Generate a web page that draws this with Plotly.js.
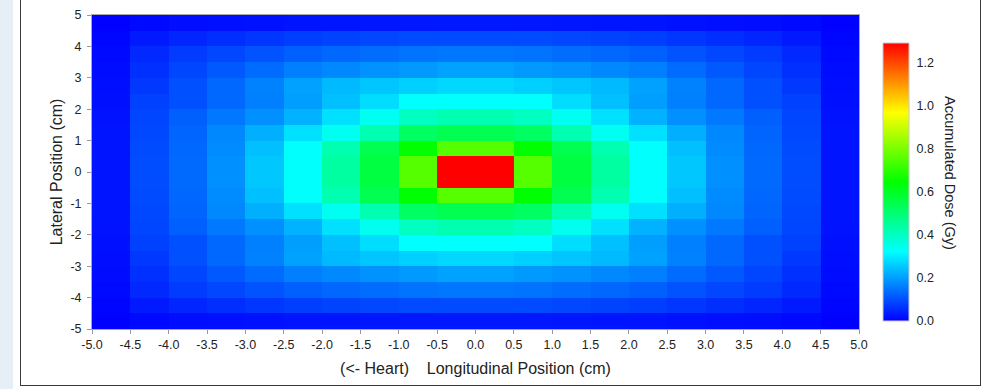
<!DOCTYPE html>
<html>
<head>
<meta charset="utf-8">
<script src="https://cdn.plot.ly/plotly-3.0.1.min.js"></script>
<style>
  html, body { margin: 0; padding: 0; background: #ffffff; }
  #wrap { position: relative; width: 986px; height: 389px; overflow: hidden; background: #ffffff; }
  #strip { position: absolute; left: 0; top: 0; width: 13px; height: 389px; background: #e7eff6; }
  #frame { position: absolute; left: 20px; top: -5px; width: 961px; height: 391px; border: 1.5px solid #3a3a3a; box-sizing: border-box; pointer-events: none; }
  #chart { position: absolute; left: 0; top: 0; width: 986px; height: 389px; }
</style>
</head>
<body>
<div id="wrap">
  <div id="strip"></div>
  <div id="chart"></div>
  <div id="frame"></div>
</div>
<script>
// Cell centres (cm)
var xCenters = [-4.75,-4.25,-3.75,-3.25,-2.75,-2.25,-1.75,-1.25,-0.75,-0.25,0.25,0.75,1.25,1.75,2.25,2.75,3.25,3.75,4.25,4.75];
var yCenters = [-4.75,-4.25,-3.75,-3.25,-2.75,-2.25,-1.75,-1.25,-0.75,-0.25,0.25,0.75,1.25,1.75,2.25,2.75,3.25,3.75,4.25,4.75];

// Accumulated dose (Gy), one row per lateral position, bottom (-4.75) to top (4.75)
var doseRows = [
  [0.001,0.011,0.016,0.019,0.022,0.025,0.027,0.028,0.029,0.030,0.030,0.029,0.028,0.027,0.025,0.022,0.019,0.016,0.011,0.001],
  [0.006,0.032,0.047,0.058,0.068,0.078,0.085,0.090,0.093,0.094,0.094,0.093,0.090,0.085,0.078,0.068,0.058,0.047,0.032,0.006],
  [0.012,0.051,0.075,0.090,0.105,0.122,0.130,0.138,0.145,0.150,0.150,0.145,0.138,0.130,0.122,0.105,0.090,0.075,0.051,0.012],
  [0.015,0.061,0.087,0.111,0.135,0.160,0.172,0.185,0.195,0.205,0.205,0.195,0.185,0.172,0.160,0.135,0.111,0.087,0.061,0.015],
  [0.018,0.071,0.101,0.132,0.165,0.205,0.235,0.250,0.263,0.273,0.273,0.263,0.250,0.235,0.205,0.165,0.132,0.101,0.071,0.018],
  [0.020,0.081,0.101,0.132,0.162,0.200,0.243,0.280,0.322,0.325,0.325,0.322,0.280,0.243,0.200,0.162,0.132,0.101,0.081,0.020],
  [0.023,0.087,0.121,0.152,0.182,0.225,0.283,0.340,0.402,0.422,0.422,0.402,0.340,0.283,0.225,0.182,0.152,0.121,0.087,0.023],
  [0.025,0.091,0.128,0.172,0.222,0.285,0.340,0.422,0.524,0.544,0.544,0.524,0.422,0.340,0.285,0.222,0.172,0.128,0.091,0.025],
  [0.025,0.094,0.132,0.177,0.243,0.325,0.422,0.544,0.645,0.752,0.752,0.645,0.544,0.422,0.325,0.243,0.177,0.132,0.094,0.025],
  [0.025,0.096,0.134,0.182,0.253,0.325,0.443,0.564,0.752,1.290,1.290,0.752,0.564,0.443,0.325,0.253,0.182,0.134,0.096,0.025],
  [0.025,0.096,0.134,0.182,0.253,0.325,0.443,0.564,0.752,1.290,1.290,0.752,0.564,0.443,0.325,0.253,0.182,0.134,0.096,0.025],
  [0.025,0.094,0.132,0.177,0.243,0.325,0.422,0.544,0.645,0.752,0.752,0.645,0.544,0.422,0.325,0.243,0.177,0.132,0.094,0.025],
  [0.025,0.091,0.128,0.172,0.222,0.285,0.340,0.422,0.524,0.544,0.544,0.524,0.422,0.340,0.285,0.222,0.172,0.128,0.091,0.025],
  [0.023,0.087,0.121,0.152,0.182,0.225,0.283,0.340,0.402,0.422,0.422,0.402,0.340,0.283,0.225,0.182,0.152,0.121,0.087,0.023],
  [0.020,0.081,0.101,0.132,0.162,0.200,0.243,0.280,0.322,0.325,0.325,0.322,0.280,0.243,0.200,0.162,0.132,0.101,0.081,0.020],
  [0.018,0.071,0.101,0.132,0.165,0.205,0.235,0.250,0.263,0.273,0.273,0.263,0.250,0.235,0.205,0.165,0.132,0.101,0.071,0.018],
  [0.015,0.061,0.087,0.111,0.135,0.160,0.172,0.185,0.195,0.205,0.205,0.195,0.185,0.172,0.160,0.135,0.111,0.087,0.061,0.015],
  [0.012,0.051,0.075,0.090,0.105,0.122,0.130,0.138,0.145,0.150,0.150,0.145,0.138,0.130,0.122,0.105,0.090,0.075,0.051,0.012],
  [0.006,0.032,0.047,0.058,0.068,0.078,0.085,0.090,0.093,0.094,0.094,0.093,0.090,0.085,0.078,0.068,0.058,0.047,0.032,0.006],
  [0.001,0.011,0.016,0.019,0.022,0.025,0.027,0.028,0.029,0.030,0.030,0.029,0.028,0.027,0.025,0.022,0.019,0.016,0.011,0.001]
];

// Tick labels
var xTickVals = [-5,-4.5,-4,-3.5,-3,-2.5,-2,-1.5,-1,-0.5,0,0.5,1,1.5,2,2.5,3,3.5,4,4.5,5];
var xTickText = ["-5.0","-4.5","-4.0","-3.5","-3.0","-2.5","-2.0","-1.5","-1.0","-0.5","0.0","0.5","1.0","1.5","2.0","2.5","3.0","3.5","4.0","4.5","5.0"];
var yTickVals = [-5,-4,-3,-2,-1,0,1,2,3,4,5];
var yTickText = ["-5","-4","-3","-2","-1","0","1","2","3","4","5"];
var cbTickVals = [0,0.2,0.4,0.6,0.8,1.0,1.2];
var cbTickText = ["0.0","0.2","0.4","0.6","0.8","1.0","1.2"];

var FONT = "Liberation Sans, Arial, sans-serif";
var TXT = "#222222";

var trace = {
  type: "heatmap",
  x: xCenters,
  y: yCenters,
  z: doseRows,
  zmin: 0,
  zmax: 1.29,
  zsmooth: false,
  colorscale: [
    [0, "rgb(0,0,255)"],
    [0.25, "rgb(0,255,255)"],
    [0.5, "rgb(0,255,0)"],
    [0.75, "rgb(255,255,0)"],
    [1, "rgb(255,0,0)"]
  ],
  hoverinfo: "x+y+z",
  colorbar: {
    x: 1.0313, xanchor: "left", xpad: 0,
    y: 0.4685, yanchor: "middle", ypad: 0,
    lenmode: "pixels", len: 278,
    thickness: 26,
    outlinewidth: 1, outlinecolor: "#c8c8c8",
    tickmode: "array", tickvals: cbTickVals, ticktext: cbTickText,
    ticks: "outside", ticklen: 5, tickcolor: "rgba(0,0,0,0)",
    tickfont: {family: FONT, size: 12.5, color: TXT}
  }
};

var layout = {
  width: 986, height: 389,
  margin: {l: 92, r: 127, t: 15, b: 60, pad: 0},
  paper_bgcolor: "rgba(0,0,0,0)",
  plot_bgcolor: "#ffffff",
  font: {family: FONT, size: 12.5, color: TXT},
  xaxis: {
    range: [-5, 5], autorange: false,
    tickmode: "array", tickvals: xTickVals, ticktext: xTickText,
    ticks: "outside", ticklen: 4, tickcolor: "#999999",
    showgrid: false, zeroline: false,
    showline: true, linecolor: "#aaaaaa", linewidth: 1, mirror: true,
    tickfont: {family: FONT, size: 12.5, color: TXT},
    title: {text: "(&lt;- Heart)\u00a0\u00a0\u00a0\u00a0Longitudinal Position (cm)", font: {family: FONT, size: 16, color: TXT}, standoff: 11},
    automargin: false
  },
  yaxis: {
    range: [-5, 5], autorange: false,
    tickmode: "array", tickvals: yTickVals, ticktext: yTickText,
    ticks: "outside", ticklen: 4, tickcolor: "#999999",
    ticklabelstandoff: 3,
    showgrid: false, zeroline: false,
    showline: true, linecolor: "#aaaaaa", linewidth: 1, mirror: true,
    tickfont: {family: FONT, size: 12.5, color: TXT},
    title: {text: "Lateral Position (cm)", font: {family: FONT, size: 16, color: TXT}, standoff: 3},
    automargin: false
  },
  annotations: [{
    text: "Accumulated Dose (Gy)",
    xref: "paper", yref: "paper",
    x: 1.1186, y: 0.497,
    xanchor: "center", yanchor: "middle",
    textangle: 90, showarrow: false,
    font: {family: FONT, size: 14.5, color: TXT}
  }]
};

Plotly.newPlot("chart", [trace], layout, {displayModeBar: false, staticPlot: true});
</script>
</body>
</html>
